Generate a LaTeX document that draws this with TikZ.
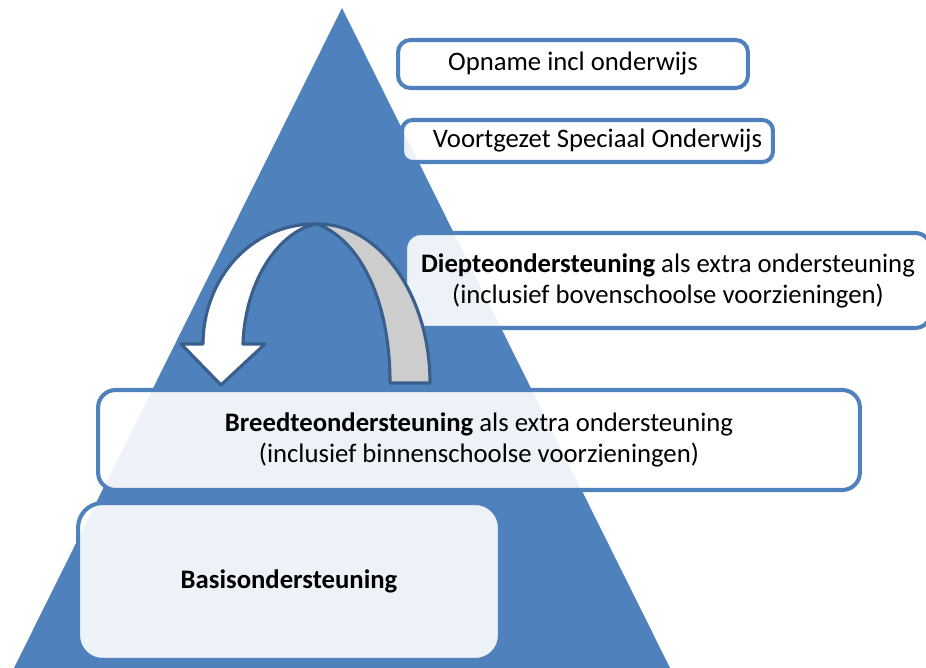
\documentclass[tikz,border=0pt]{standalone}
\usepackage{fontspec}
\setmainfont{Carlito}
\begin{document}
\begin{tikzpicture}[x=0.02cm,y=-0.02cm,
  tri/.style={fill=triblue,draw=none},
  lvl/.style={draw=triblue,line width=2.3pt,fill=white,fill opacity=0.9,text opacity=1,
    align=center,inner sep=0pt,font=\fontsize{15.2pt}{17.6pt}\selectfont},
  arrowout/.style={draw=arrowedge,line width=1.8pt,line join=round}]
\definecolor{triblue}{HTML}{4F81BD}
\definecolor{arrowedge}{HTML}{3A5F8C}
\definecolor{backgray}{HTML}{CDCDCD}
\useasboundingbox (0,0) rectangle (926,668);
\clip (0,0) rectangle (926,668);
% pyramid
\fill[tri] (342,8) -- (672,672) -- (12,672) -- cycle;
% levels
\node[lvl,rounded corners=7pt,minimum width=7cm,minimum height=0.96cm] (opname) at (573,64) {Opname incl onderwijs};
\node[lvl,rounded corners=6pt,minimum width=7.42cm,minimum height=0.84cm] (vso) at (587.5,141) {\hspace{0.4cm}Voortgezet Speciaal Onderwijs};
\node[lvl,rounded corners=9pt,minimum width=10.52cm,minimum height=1.9cm] (diepte) at (668,280.5) {\textbf{Diepteondersteuning} als extra ondersteuning\\(inclusief bovenschoolse voorzieningen)};
\node[lvl,rounded corners=10pt,minimum width=15.24cm,minimum height=2cm] (breedte) at (479,440) {\textbf{Breedteondersteuning} als extra ondersteuning\\(inclusief binnenschoolse voorzieningen)};
\node[lvl,rounded corners=14pt,minimum width=8.44cm,minimum height=3.14cm] (basis) at (289,581.5) {\textbf{Basisondersteuning}};
% curved arrow
\coordinate (top) at (317,224);
\filldraw[arrowout,fill=white] (203,344) .. controls (203,280) and (250,223) .. (top)
  .. controls (280,230) and (245,280) .. (243,344) -- (265,344) -- (221,385) -- (181,344) -- cycle;
\filldraw[arrowout,fill=backgray] (top) .. controls (379,223) and (430,295) .. (430,383)
  -- (390,383) .. controls (390,300) and (360,240) .. (top) -- cycle;
\end{tikzpicture}
\end{document}
